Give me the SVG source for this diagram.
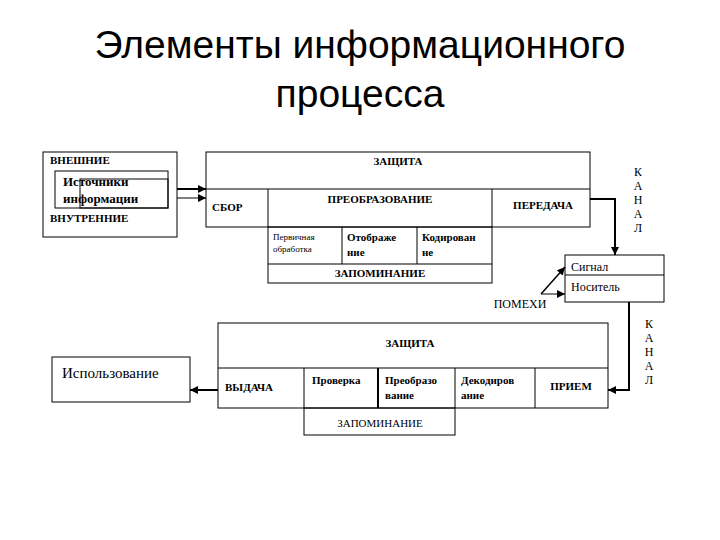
<svg xmlns="http://www.w3.org/2000/svg" width="720" height="540" viewBox="0 0 720 540">
<defs>
<style>
rect,line,polyline{fill:none;stroke:#000;stroke-width:1}
.t{font-family:"Times New Roman","Liberation Serif","DejaVu Serif",serif;font-size:11px;font-weight:bold}
.s{font-family:"Times New Roman","Liberation Serif","DejaVu Serif",serif;font-size:9px}
.r{font-family:"Times New Roman","Liberation Serif","DejaVu Serif",serif;font-size:12px}
.h{font-family:"Liberation Sans",Arial,sans-serif;font-size:39px}
</style>
<marker id="a" viewBox="0 0 10 10" refX="10" refY="5" markerWidth="8" markerHeight="8" markerUnits="userSpaceOnUse" orient="auto"><path d="M0,0L10,5L0,10z" fill="#000"/></marker>
</defs>
<rect x="0" y="0" width="720" height="540" style="fill:#fff;stroke:none"/>
<text class="h" x="360" y="58" text-anchor="middle">Элементы информационного</text>
<text class="h" x="360" y="107" text-anchor="middle">процесса</text>
<g id="sources">
<rect x="43" y="152" width="134" height="85"/>
<rect x="55" y="171" width="113" height="37"/>
<rect x="80" y="179" width="88" height="29"/>
<text class="t" x="50" y="164">ВНЕШНИЕ</text>
<text class="t" x="63" y="186" style="font-size:13px">Источники</text>
<text class="t" x="63" y="203" style="font-size:13px">информации</text>
<text class="t" x="50" y="222">ВНУТРЕННИЕ</text>
</g>
<g id="top-process">
<rect x="206" y="152" width="384" height="75"/>
<line x1="206" y1="189" x2="590" y2="189"/>
<line x1="268" y1="189" x2="268" y2="227"/>
<line x1="492" y1="189" x2="492" y2="227"/>
<rect x="268" y="227" width="224" height="56"/>
<line x1="268" y1="264" x2="492" y2="264"/>
<line x1="342" y1="227" x2="342" y2="264"/>
<line x1="417" y1="227" x2="417" y2="264"/>
<text class="t" x="398" y="165" text-anchor="middle">ЗАЩИТА</text>
<text class="t" x="212" y="211">СБОР</text>
<text class="t" x="380" y="203" text-anchor="middle">ПРЕОБРАЗОВАНИЕ</text>
<text class="t" x="543" y="209" text-anchor="middle">ПЕРЕДАЧА</text>
<text class="s" x="273" y="240">Первичная</text>
<text class="s" x="273" y="252">обработка</text>
<text class="t" x="347" y="241">Отображе</text>
<text class="t" x="347" y="256">ние</text>
<text class="t" x="422" y="241">Кодирован</text>
<text class="t" x="422" y="256">не</text>
<text class="t" x="380" y="277" text-anchor="middle">ЗАПОМИНАНИЕ</text>
</g>
<g id="signal">
<rect x="565" y="255" width="99" height="47"/>
<line x1="565" y1="275" x2="664" y2="275"/>
<text class="r" x="571" y="271">Сигнал</text>
<text class="r" x="571" y="291">Носитель</text>
</g>
<g id="labels">
<text class="r" x="520" y="308" text-anchor="middle">ПОМЕХИ</text>
<text class="r" x="638" y="176" text-anchor="middle">К</text>
<text class="r" x="638" y="190" text-anchor="middle">А</text>
<text class="r" x="638" y="204" text-anchor="middle">Н</text>
<text class="r" x="638" y="218" text-anchor="middle">А</text>
<text class="r" x="638" y="232" text-anchor="middle">Л</text>
<text class="r" x="649" y="328" text-anchor="middle">К</text>
<text class="r" x="649" y="342" text-anchor="middle">А</text>
<text class="r" x="649" y="356" text-anchor="middle">Н</text>
<text class="r" x="649" y="370" text-anchor="middle">А</text>
<text class="r" x="649" y="384" text-anchor="middle">Л</text>
</g>
<g id="bottom-process">
<rect x="218" y="323" width="390" height="85"/>
<line x1="218" y1="368" x2="608" y2="368"/>
<line x1="304" y1="368" x2="304" y2="408"/>
<line x1="378" y1="368" x2="378" y2="408" style="stroke-width:2"/>
<line x1="455" y1="368" x2="455" y2="408"/>
<line x1="535" y1="368" x2="535" y2="408"/>
<rect x="304" y="408" width="151" height="27"/>
<text class="t" x="410" y="347" text-anchor="middle">ЗАЩИТА</text>
<text class="t" x="225" y="391">ВЫДАЧА</text>
<text class="t" x="312" y="384">Проверка</text>
<text class="t" x="385" y="384">Преобразо</text>
<text class="t" x="385" y="399">вание</text>
<text class="t" x="461" y="384">Декодиров</text>
<text class="t" x="461" y="399">ание</text>
<text class="t" x="571" y="390" text-anchor="middle">ПРИЕМ</text>
<text class="r" x="380" y="427" text-anchor="middle" style="font-size:11px">ЗАПОМИНАНИЕ</text>
</g>
<g id="usage">
<rect x="52" y="357" width="138" height="45"/>
<text class="r" x="62" y="378" style="font-size:15px">Использование</text>
</g>
<g id="connectors">
<line x1="177" y1="189" x2="206" y2="189" style="stroke-width:2" marker-end="url(#a)"/>
<line x1="177" y1="198" x2="206" y2="198" marker-end="url(#a)"/>
<polyline points="590,199 615,199 615,255" style="stroke-width:2" marker-end="url(#a)"/>
<line x1="541" y1="294" x2="565" y2="267" style="stroke-width:1.5" marker-end="url(#a)"/>
<line x1="541" y1="294" x2="565" y2="294" marker-end="url(#a)"/>
<polyline points="629,302 629,390 608,390" style="stroke-width:2" marker-end="url(#a)"/>
<line x1="218" y1="390" x2="190" y2="390" style="stroke-width:2" marker-end="url(#a)"/>
</g>
</svg>
